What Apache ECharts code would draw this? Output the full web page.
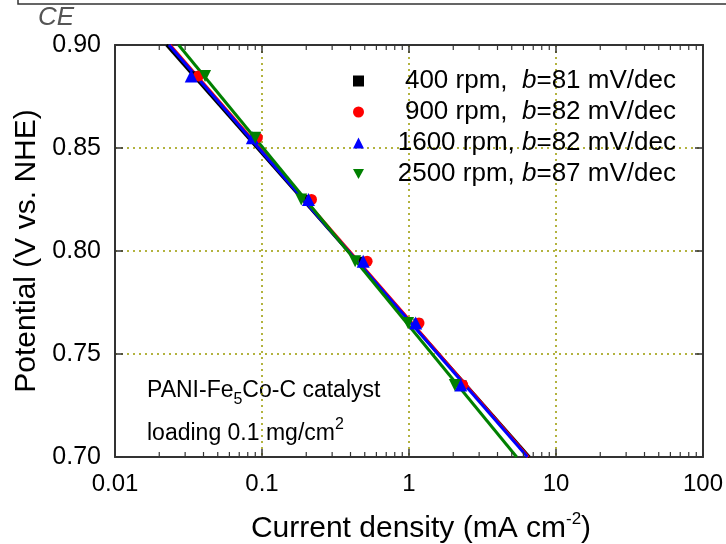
<!DOCTYPE html>
<html>
<head>
<meta charset="utf-8">
<script src="https://cdn.jsdelivr.net/npm/echarts@6/dist/echarts.min.js"></script>
<style>
  html, body { margin: 0; padding: 0; background: #fff; }
  #chart { width: 726px; height: 544px; }
</style>
</head>
<body>
<div id="chart"></div>
<script>
  // measured potentials (V vs. NHE), same for every rotation rate
  var potential = [0.885, 0.855, 0.825, 0.795, 0.765, 0.735];
  // current density (mA cm-2)
  var cur400 = [0.035, 0.090, 0.210, 0.490, 1.15, 2.30];
  var cur900 = [0.037, 0.093, 0.217, 0.519, 1.17, 2.32];
  var cur1600 = [0.033, 0.086, 0.207, 0.488, 1.11, 2.25];
  var cur2500 = [0.041, 0.090, 0.185, 0.430, 0.985, 2.05];

  // Tafel fit lines: end points at the top and bottom of the frame
  var fitPotential = [0.90, 0.70];
  var fit400 = [0.0224, 6.6];
  var fit900 = [0.0237, 6.5];
  var fit1600 = [0.0233, 6.4];
  var fit2500 = [0.0271, 5.4];

  var rpmNames = ['400 rpm', '900 rpm', '1600 rpm', '2500 rpm'];
  var rpmLabels = ['400 rpm,  ', '900 rpm,  ', '1600 rpm, ', '2500 rpm, '];
  var tafelB = [81, 82, 82, 87];
  var colors = ['#000000', '#ff0000', '#0000ff', '#008000'];
  var symbols = ['rect', 'circle', 'triangle', 'path://M0,0L10,0L5,9Z'];
  var symbolSizes = [9, 11, 13, 12];

  // log axis decoration
  var decades = [0.01, 0.1, 1, 10];
  var minorSteps = [2, 3, 4, 5, 6, 7, 8, 9];

  var curList = [cur400, cur900, cur1600, cur2500];
  var fitList = [fit400, fit900, fit1600, fit2500];

  function pairs(xs, ys) {
    return xs.map(function (x, i) { return [x, ys[i]]; });
  }

  var minorTicks = [];
  decades.forEach(function (d) {
    minorSteps.forEach(function (m) { minorTicks.push([d * m]); });
  });

  var frameColor = '#333333';
  var gridLine = { show: true, lineStyle: { color: '#9a9a00', type: [2, 4], width: 1.5 } };

  var series = [];
  // fit lines first
  fitList.forEach(function (f, i) {
    series.push({
      name: rpmNames[i] + ' fit',
      type: 'line',
      data: pairs(f, fitPotential),
      showSymbol: false,
      lineStyle: { color: colors[i], width: 3 },
      silent: true,
      z: 3
    });
  });
  // measured points
  curList.forEach(function (c, i) {
    series.push({
      name: rpmNames[i],
      type: 'scatter',
      data: pairs(c, potential),
      symbol: symbols[i],
      symbolSize: symbolSizes[i],
      itemStyle: { color: colors[i], opacity: 1 },
      z: 4
    });
  });
  // minor log ticks on bottom and top edges
  series.push({
    type: 'custom',
    silent: true,
    data: minorTicks,
    encode: { x: 0 },
    renderItem: function (params, api) {
      var x = api.value(0);
      var b = api.coord([x, 0.70]);
      var t = api.coord([x, 0.90]);
      return {
        type: 'group',
        children: [
          { type: 'line', shape: { x1: b[0], y1: b[1], x2: b[0], y2: b[1] - 5 }, style: { stroke: frameColor, lineWidth: 1.2 } },
          { type: 'line', shape: { x1: t[0], y1: t[1], x2: t[0], y2: t[1] + 5 }, style: { stroke: frameColor, lineWidth: 1.2 } }
        ]
      };
    },
    z: 5
  });

  var chart = echarts.init(document.getElementById('chart'));
  chart.setOption({
    animation: false,
    backgroundColor: '#ffffff',
    textStyle: { fontFamily: 'Liberation Sans, Arial, sans-serif' },
    grid: { left: 115, right: 23, top: 45, bottom: 87, containLabel: false, outerBoundsMode: 'none' },
    legend: {
      orient: 'vertical',
      left: 348,
      top: 63,
      itemWidth: 11,
      itemHeight: 11,
      itemGap: 5,
      selectedMode: false,
      data: rpmNames.map(function (n, i) { return { name: n, icon: symbols[i] }; }),
      formatter: function (name) {
        var i = rpmNames.indexOf(name);
        return '{n|' + rpmLabels[i] + '}{i|b}{t|=' + tafelB[i] + ' mV/dec}';
      },
      textStyle: {
        color: '#000',
        rich: {
          n: { fontSize: 26, lineHeight: 28, width: 153, align: 'right', color: '#000' },
          i: { fontSize: 26, lineHeight: 28, fontStyle: 'italic', align: 'right', color: '#000' },
          t: { fontSize: 26, lineHeight: 28, align: 'right', color: '#000' }
        }
      }
    },
    xAxis: [{
      type: 'log',
      min: 0.01,
      max: 100,
      logBase: 10,
      name: '{a|Current density (mA cm}{s|-2}{a|)}',
      nameLocation: 'middle',
      nameGap: 54,
      nameTextStyle: {
        padding: [0, 0, 0, 24],
        rich: {
          a: { fontSize: 30, color: '#000', lineHeight: 36, verticalAlign: 'middle' },
          s: { fontSize: 17, color: '#000', lineHeight: 36, verticalAlign: 'top' }
        }
      },
      axisLine: { show: true, onZero: false, lineStyle: { color: frameColor, width: 2 } },
      axisTick: { show: true, inside: true, length: 8, lineStyle: { color: frameColor, width: 1.5 } },
      axisLabel: { fontSize: 24, color: '#000', margin: 15 },
      splitLine: gridLine
    }, {
      type: 'log',
      position: 'top',
      min: 0.01,
      max: 100,
      logBase: 10,
      axisLine: { show: true, onZero: false, lineStyle: { color: frameColor, width: 2 } },
      axisTick: { show: true, inside: true, length: 8, lineStyle: { color: frameColor, width: 1.5 } },
      axisLabel: { show: false },
      splitLine: { show: false }
    }],
    yAxis: [{
      type: 'value',
      min: 0.70,
      max: 0.90,
      interval: 0.05,
      name: 'Potential (V vs. NHE)',
      nameLocation: 'middle',
      nameGap: 67,
      nameTextStyle: { fontSize: 30, color: '#000' },
      axisLine: { show: true, onZero: false, lineStyle: { color: frameColor, width: 2 } },
      axisTick: { show: true, inside: true, length: 8, lineStyle: { color: frameColor, width: 1.5 } },
      axisLabel: { fontSize: 25, color: '#000', margin: 14, formatter: function (v) { return v.toFixed(2); } },
      splitLine: gridLine
    }, {
      type: 'value',
      position: 'right',
      min: 0.70,
      max: 0.90,
      interval: 0.05,
      axisLine: { show: true, onZero: false, lineStyle: { color: frameColor, width: 2 } },
      axisTick: { show: true, inside: true, length: 8, lineStyle: { color: frameColor, width: 1.5 } },
      axisLabel: { show: false },
      splitLine: { show: false }
    }],
    graphic: [
      {
        type: 'polyline',
        shape: { points: [[18, 0], [18, 4], [726, 4]] },
        style: { stroke: '#333', lineWidth: 1.5, fill: null }
      },
      {
        type: 'text',
        left: 38,
        top: 5,
        style: { text: 'CE', fill: '#555', font: 'italic 26px "Liberation Sans", Arial, sans-serif' }
      },
      {
        type: 'text',
        left: 147,
        top: 379,
        style: {
          text: '{m|PANI-Fe}{s|5}{m|Co-C catalyst}',
          rich: {
            m: { fontSize: 23, lineHeight: 34, fill: '#000', fontFamily: 'Liberation Sans' },
            s: { fontSize: 16, lineHeight: 34, verticalAlign: 'bottom', fill: '#000', fontFamily: 'Liberation Sans' }
          }
        }
      },
      {
        type: 'text',
        left: 147,
        top: 417,
        style: {
          text: '{m|loading 0.1 mg/cm}{s|2}',
          rich: {
            m: { fontSize: 23, lineHeight: 34, fill: '#000', fontFamily: 'Liberation Sans' },
            s: { fontSize: 16, lineHeight: 34, verticalAlign: 'top', fill: '#000', fontFamily: 'Liberation Sans' }
          }
        }
      }
    ],
    series: series
  });
</script>
</body>
</html>
